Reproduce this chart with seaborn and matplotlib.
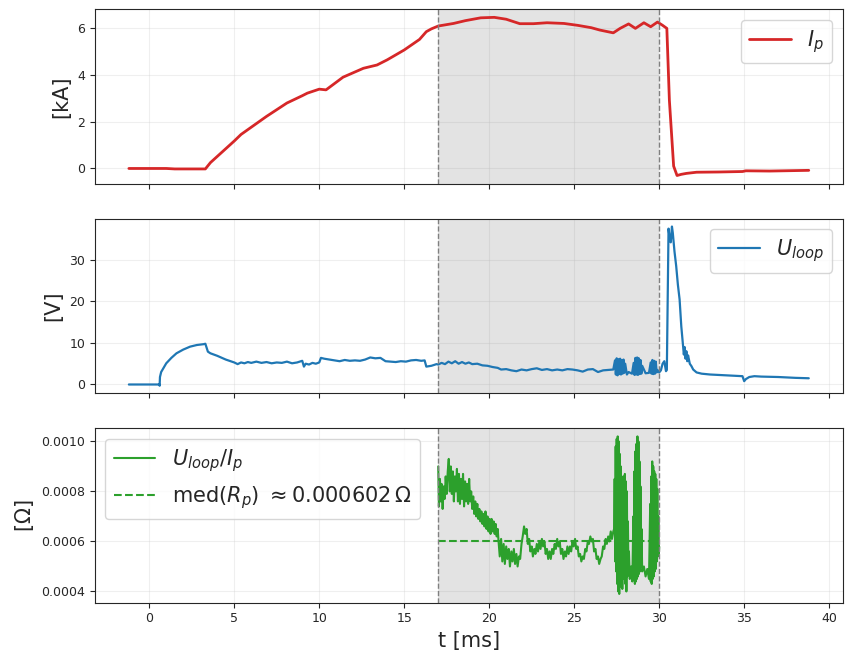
import numpy as np
import seaborn as sns
import matplotlib
matplotlib.use("Agg")
import matplotlib.pyplot as plt

# flat-top window [ms] and median resistance
window = [17.0, 30.0]
r_med = 0.000602

# plasma current I_p [kA]
ip_t = [-1.2, 0.0, 1.0, 1.5, 2.5, 3.3, 3.6, 5.0, 5.4, 6.9, 8.1, 9.0, 9.3, 10.0, 10.4,
        11.4, 12.6, 13.4, 14.0, 15.0, 15.9, 16.3, 16.6, 17.0, 17.9, 18.6, 19.5, 20.3,
        21.0, 21.8, 22.6, 23.4, 24.4, 25.2, 26.0, 26.5, 27.3, 27.7, 28.2, 28.6, 29.1,
        29.5, 29.9, 30.2, 30.45, 30.6, 30.85, 31.05, 31.3, 31.6, 32.2, 33.5, 34.9,
        35.1, 36.5, 38.8]
ip_v = [0.0, 0.0, 0.0, -0.02, -0.02, -0.02, 0.25, 1.17, 1.45, 2.22, 2.79, 3.1, 3.21,
        3.38, 3.35, 3.89, 4.27, 4.41, 4.63, 5.05, 5.5, 5.83, 5.95, 6.07, 6.18, 6.3,
        6.42, 6.44, 6.36, 6.17, 6.17, 6.21, 6.18, 6.1, 6.0, 5.9, 5.78, 5.97, 6.16,
        5.97, 6.21, 6.04, 6.24, 6.1, 5.97, 2.9, 0.1, -0.3, -0.25, -0.21, -0.16,
        -0.15, -0.13, -0.1, -0.11, -0.08]

# loop voltage U_loop [V], (t, value)
uloop_pts = [
    (-1.2, 0.0), (0.6, 0.0), (0.61, -0.3), (0.63, 1.8), (0.7, 3.0), (1.0, 5.1),
    (1.3, 6.4), (1.6, 7.5), (2.0, 8.4), (2.4, 9.1), (2.8, 9.5), (3.2, 9.7),
    (3.3, 9.8), (3.45, 7.9), (3.6, 7.5), (4.0, 6.9), (4.5, 6.0), (5.0, 5.3),
    (5.2, 4.9), (5.4, 5.3), (5.6, 5.1), (5.8, 5.4), (6.0, 5.2), (6.3, 5.5),
    (6.6, 5.2), (6.9, 5.4), (7.2, 5.1), (7.5, 5.3), (7.8, 5.2), (8.1, 5.5),
    (8.4, 5.1), (8.7, 5.3), (9.0, 5.7), (9.1, 4.3), (9.2, 5.0), (9.4, 4.8),
    (9.6, 5.2), (9.8, 5.0), (10.0, 5.3), (10.1, 6.4), (10.3, 6.2), (10.6, 6.0),
    (10.9, 5.8), (11.2, 5.6), (11.5, 5.9), (11.8, 5.7), (12.1, 5.8), (12.4, 5.7),
    (12.7, 6.0), (13.0, 6.5), (13.3, 6.3), (13.6, 6.4), (13.9, 5.6), (14.2, 5.5),
    (14.5, 5.4), (14.8, 5.6), (15.1, 5.5), (15.4, 5.8), (15.7, 5.9), (16.0, 5.7),
    (16.2, 5.8), (16.3, 4.3), (16.6, 4.5), (16.9, 4.9), (17.0, 4.8), (17.2, 5.2),
    (17.4, 4.9), (17.6, 5.5), (17.8, 5.1), (18.0, 5.6), (18.2, 5.0), (18.4, 5.4),
    (18.6, 5.0), (18.8, 5.3), (19.0, 4.9), (19.3, 5.0), (19.6, 4.6), (19.9, 4.5),
    (20.2, 4.2), (20.5, 4.0), (20.7, 3.6), (21.0, 3.7), (21.3, 3.4), (21.6, 3.2),
    (21.9, 3.6), (22.2, 3.4), (22.5, 3.7), (22.8, 3.9), (23.1, 3.5), (23.4, 3.7),
    (23.7, 3.4), (24.0, 3.6), (24.3, 3.4), (24.6, 3.7), (24.9, 3.6), (25.2, 3.4),
    (25.5, 3.1), (25.8, 3.6), (26.1, 3.7), (26.4, 3.0), (26.7, 3.4), (27.0, 3.5),
    (27.3, 3.6), (27.4, 5.8), (27.45, 2.4), (27.5, 6.3), (27.55, 2.2), (27.6, 6.1),
    (27.65, 2.5), (27.7, 6.2), (27.75, 2.4), (27.8, 5.9), (27.85, 2.6), (27.9, 6.0),
    (27.95, 2.8), (28.0, 5.0), (28.1, 2.4), (28.2, 3.0), (28.4, 2.6), (28.5, 5.2),
    (28.55, 2.3), (28.6, 6.4), (28.65, 2.4), (28.7, 6.5), (28.75, 2.3), (28.8, 6.3),
    (28.85, 2.5), (28.9, 5.9), (28.95, 2.6), (29.0, 4.5), (29.2, 2.7), (29.4, 2.8),
    (29.5, 5.3), (29.55, 2.6), (29.6, 5.9), (29.65, 2.5), (29.7, 5.7), (29.75, 2.6),
    (29.8, 5.5), (29.85, 2.9), (29.9, 3.5), (30.0, 2.9), (30.1, 3.4), (30.2, 5.0),
    (30.3, 5.6), (30.4, 3.2), (30.45, 3.5), (30.5, 20.0), (30.55, 37.5), (30.62, 35.0),
    (30.68, 34.2), (30.75, 38.0), (30.8, 36.5), (30.9, 32.0), (31.0, 28.5),
    (31.1, 24.0), (31.2, 20.5), (31.3, 14.0), (31.4, 9.5), (31.45, 7.2), (31.5, 9.0),
    (31.55, 6.2), (31.6, 8.0), (31.65, 5.6), (31.7, 7.0), (31.8, 5.0), (31.9, 4.4),
    (32.0, 3.6), (32.2, 2.9), (32.5, 2.6), (33.0, 2.4), (33.5, 2.3), (34.0, 2.2),
    (34.5, 2.1), (34.9, 2.0), (35.0, 0.8), (35.1, 1.3), (35.3, 1.8), (35.6, 2.0),
    (36.0, 1.9), (37.0, 1.8), (38.0, 1.6), (38.8, 1.5),
]

# resistance U_loop / I_p [Ohm] inside the window, (t, value)
rp_pts = [
    (17.0, 9.0e-4), (17.04, 7.4e-4), (17.1, 8.5e-4), (17.15, 7.6e-4), (17.2, 8.3e-4),
    (17.26, 7.3e-4), (17.32, 8.2e-4), (17.38, 7.7e-4), (17.44, 8.6e-4), (17.5, 7.9e-4),
    (17.56, 8.8e-4), (17.62, 9.3e-4), (17.68, 8.0e-4), (17.74, 9.0e-4), (17.8, 7.9e-4),
    (17.86, 8.8e-4), (17.92, 7.6e-4), (17.98, 8.6e-4), (18.04, 8.0e-4), (18.1, 8.9e-4),
    (18.16, 7.6e-4), (18.22, 8.7e-4), (18.28, 7.5e-4), (18.34, 8.5e-4), (18.4, 7.7e-4),
    (18.46, 8.7e-4), (18.52, 7.4e-4), (18.58, 8.4e-4), (18.64, 7.6e-4), (18.7, 8.3e-4),
    (18.76, 7.5e-4), (18.82, 8.5e-4), (18.88, 7.6e-4), (18.94, 8.0e-4), (19.0, 7.3e-4),
    (19.06, 7.8e-4), (19.12, 7.1e-4), (19.18, 7.6e-4), (19.24, 7.0e-4), (19.3, 7.5e-4),
    (19.36, 6.9e-4), (19.42, 7.3e-4), (19.48, 6.8e-4), (19.54, 7.2e-4), (19.6, 6.7e-4),
    (19.66, 7.1e-4), (19.72, 6.6e-4), (19.78, 7.2e-4), (19.84, 6.5e-4), (19.9, 7.0e-4),
    (19.96, 6.4e-4), (20.02, 6.9e-4), (20.08, 6.3e-4), (20.14, 6.9e-4), (20.2, 6.4e-4),
    (20.26, 6.8e-4), (20.32, 6.3e-4), (20.38, 6.7e-4), (20.44, 6.2e-4), (20.5, 6.5e-4),
    (20.55, 6.0e-4), (20.62, 5.4e-4), (20.7, 6.1e-4), (20.77, 5.2e-4), (20.85, 5.9e-4),
    (20.92, 5.1e-4), (21.0, 5.8e-4), (21.07, 5.3e-4), (21.15, 5.7e-4), (21.22, 5.0e-4),
    (21.3, 5.6e-4), (21.37, 5.2e-4), (21.45, 5.7e-4), (21.52, 5.1e-4), (21.6, 5.5e-4),
    (21.67, 5.0e-4), (21.75, 5.4e-4), (21.82, 5.3e-4), (21.9, 5.9e-4), (21.97, 6.2e-4),
    (22.05, 6.6e-4), (22.12, 6.3e-4), (22.2, 6.5e-4), (22.27, 5.9e-4), (22.35, 6.1e-4),
    (22.42, 5.6e-4), (22.5, 5.8e-4), (22.57, 5.4e-4), (22.65, 5.7e-4), (22.72, 5.5e-4),
    (22.8, 5.9e-4), (22.87, 5.6e-4), (22.95, 6.0e-4), (23.02, 5.7e-4), (23.1, 6.1e-4),
    (23.17, 5.8e-4), (23.25, 6.0e-4), (23.32, 5.5e-4), (23.4, 5.7e-4), (23.47, 5.3e-4),
    (23.55, 5.6e-4), (23.62, 5.3e-4), (23.7, 5.7e-4), (23.77, 5.5e-4), (23.85, 5.9e-4),
    (23.92, 5.7e-4), (24.0, 6.1e-4), (24.07, 5.8e-4), (24.15, 6.0e-4), (24.22, 5.5e-4),
    (24.3, 5.7e-4), (24.37, 5.3e-4), (24.45, 5.6e-4), (24.52, 5.4e-4), (24.6, 5.8e-4),
    (24.67, 5.5e-4), (24.75, 5.8e-4), (24.82, 5.6e-4), (24.9, 6.0e-4), (24.97, 5.8e-4),
    (25.05, 6.1e-4), (25.12, 5.7e-4), (25.2, 5.8e-4), (25.27, 5.4e-4), (25.35, 5.5e-4),
    (25.42, 5.2e-4), (25.5, 5.4e-4), (25.57, 5.3e-4), (25.65, 5.7e-4), (25.72, 5.6e-4),
    (25.8, 6.0e-4), (25.87, 5.9e-4), (25.95, 6.2e-4), (26.02, 6.0e-4), (26.1, 6.1e-4),
    (26.17, 5.6e-4), (26.25, 5.7e-4), (26.32, 5.3e-4), (26.4, 5.4e-4), (26.47, 5.1e-4),
    (26.55, 5.3e-4), (26.62, 5.4e-4), (26.7, 5.8e-4), (26.77, 5.7e-4), (26.85, 6.1e-4),
    (26.92, 5.9e-4), (27.0, 6.2e-4), (27.07, 6.0e-4), (27.15, 6.4e-4), (27.22, 6.1e-4),
    (27.3, 6.4e-4),
    (27.35, 6.5e-4), (27.38, 8.5e-4), (27.41, 5.2e-4), (27.44, 9.8e-4), (27.47, 4.8e-4),
    (27.5, 10.1e-4), (27.53, 4.3e-4), (27.56, 10.2e-4), (27.59, 4.0e-4), (27.62, 10.0e-4),
    (27.65, 3.9e-4), (27.68, 9.5e-4), (27.71, 4.2e-4), (27.74, 9.0e-4), (27.77, 4.4e-4),
    (27.8, 8.6e-4), (27.83, 4.1e-4), (27.86, 8.3e-4), (27.89, 4.6e-4), (27.92, 8.6e-4),
    (27.95, 4.5e-4), (27.98, 8.7e-4), (28.01, 4.3e-4), (28.04, 8.4e-4), (28.07, 4.0e-4),
    (28.1, 8.0e-4), (28.13, 4.6e-4), (28.16, 6.8e-4), (28.19, 4.9e-4), (28.22, 5.6e-4),
    (28.27, 4.5e-4), (28.35, 5.0e-4), (28.42, 4.4e-4), (28.48, 7.0e-4), (28.51, 4.5e-4),
    (28.54, 8.8e-4), (28.57, 4.3e-4), (28.6, 9.6e-4), (28.63, 4.4e-4), (28.66, 9.9e-4),
    (28.69, 4.5e-4), (28.72, 10.2e-4), (28.75, 4.6e-4), (28.78, 10.0e-4), (28.81, 4.7e-4),
    (28.84, 9.2e-4), (28.87, 4.8e-4), (28.9, 8.2e-4), (28.93, 5.0e-4), (28.96, 6.5e-4),
    (29.0, 4.8e-4), (29.1, 5.0e-4), (29.2, 4.6e-4), (29.3, 4.9e-4), (29.4, 4.5e-4),
    (29.47, 7.5e-4), (29.5, 4.4e-4), (29.53, 8.6e-4), (29.56, 4.3e-4), (29.59, 9.2e-4),
    (29.62, 4.5e-4), (29.65, 9.0e-4), (29.68, 4.6e-4), (29.71, 8.8e-4), (29.74, 4.8e-4),
    (29.77, 8.7e-4), (29.8, 4.9e-4), (29.83, 8.5e-4), (29.86, 5.2e-4), (29.89, 8.1e-4),
    (29.92, 5.4e-4), (29.95, 7.0e-4), (29.98, 5.5e-4), (30.0, 5.8e-4),
]

u_t, u_v = np.array(uloop_pts).T
r_t, r_v = np.array(rp_pts).T

sns.set_style("ticks")

fig, axes = plt.subplots(3, 1, figsize=(8.47, 6.53), dpi=100, sharex=True)
fig.subplots_adjust(left=0.112, right=0.995, top=0.986, bottom=0.077, hspace=0.2)

sns.lineplot(x=ip_t, y=ip_v, ax=axes[0], color="tab:red", lw=2,
             sort=False, estimator=None, label=r"$I_p$")
sns.lineplot(x=u_t, y=u_v, ax=axes[1], color="tab:blue", lw=1.6,
             sort=False, estimator=None, label=r"$U_{loop}$")
sns.lineplot(x=r_t, y=r_v, ax=axes[2], color="tab:green", lw=1.5,
             sort=False, estimator=None, label=r"$U_{loop}/I_p$")
sns.lineplot(x=window, y=[r_med, r_med], ax=axes[2], color="tab:green", lw=1.5,
             linestyle="--", label=r"$\mathrm{med}(R_p)\ \approx 0.000602\,\Omega$")

ylabels = ["[kA]", "[V]", r"[$\Omega$]"]
ylims = [(-0.65, 6.79), (-2.1, 39.9), (0.000355, 0.001053)]
for ax, lab, lim in zip(axes, ylabels, ylims):
    ax.axvspan(window[0], window[1], color="gray", alpha=0.22, lw=0)
    for w in window:
        ax.axvline(w, color="gray", ls="--", lw=1)
    ax.grid(True, alpha=0.3)
    ax.set_ylabel(lab, fontsize=15)
    ax.set_ylim(*lim)
    ax.tick_params(labelsize=9)
    ax.set_xlabel("")

axes[0].legend(loc="upper right", fontsize=15)
axes[1].legend(loc="upper right", fontsize=15)
axes[2].legend(loc="upper left", fontsize=15)
axes[2].set_xlim(-3.2, 40.8)
axes[2].set_xticks(np.arange(0, 41, 5))
axes[2].set_xlabel("t [ms]", fontsize=15)

fig.savefig("out.png", dpi=100)
